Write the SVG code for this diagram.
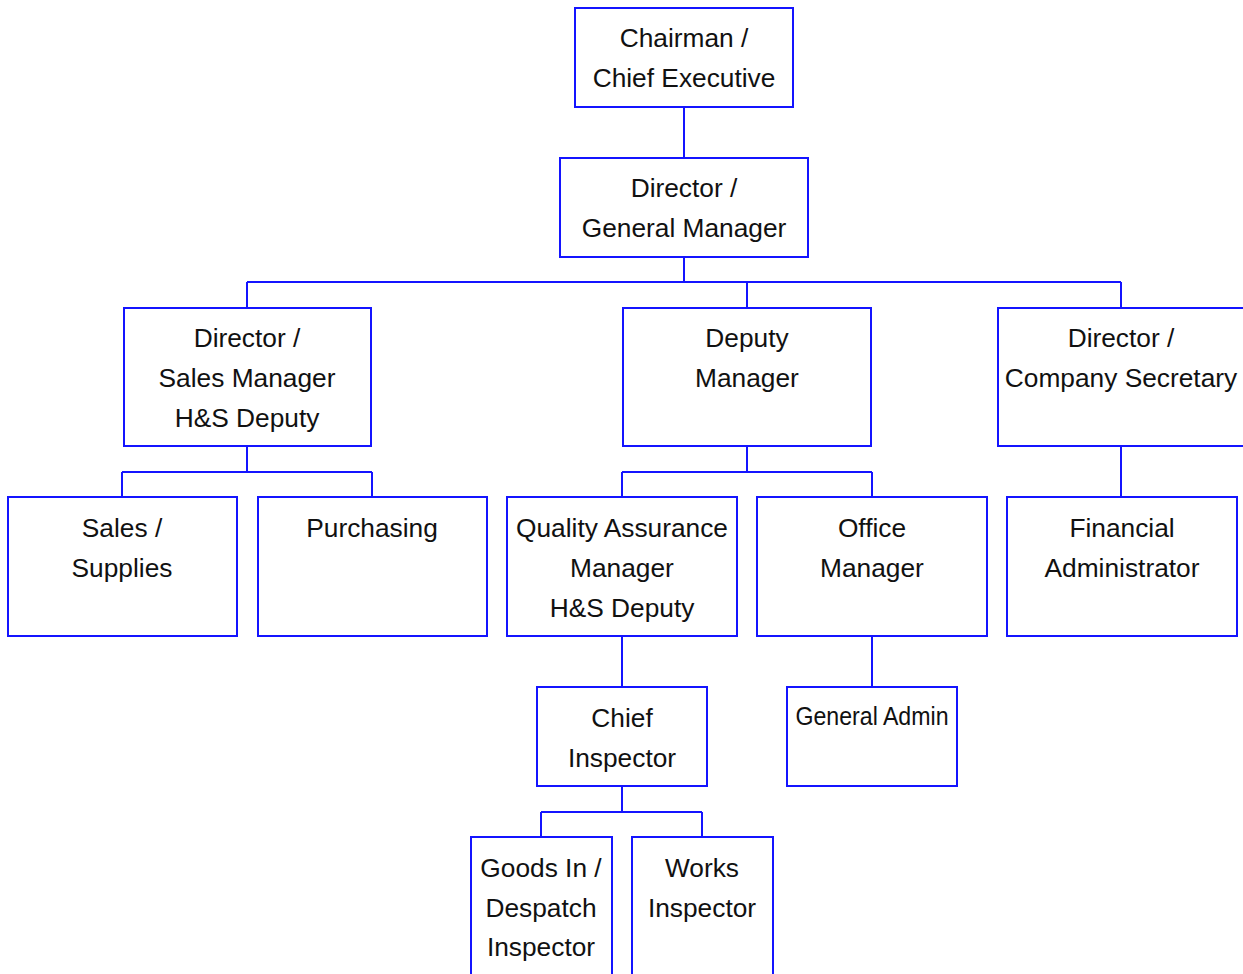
<svg xmlns="http://www.w3.org/2000/svg" width="1243" height="974" viewBox="0 0 1243 974">
<style>
.box{fill:#fff;stroke:#1414ff;stroke-width:2}
.ln{fill:none;stroke:#1414ff;stroke-width:2}
text{font-family:"Liberation Sans",Arial,sans-serif;font-size:26.3px;fill:#111;text-anchor:middle}
</style>
<rect width="1243" height="974" fill="#fff"/>
<g id="connectors">
<path class="ln" d="M684 107V158M684 257V282M247 282H1121M247 282V308M747 282V308M1121 282V308"/>
<path class="ln" d="M247 446V472M122 472H372M122 472V497M372 472V497"/>
<path class="ln" d="M747 446V472M622 472H872M622 472V497M872 472V497"/>
<path class="ln" d="M1121 446V497M622 636V687M872 636V687"/>
<path class="ln" d="M622 786V812M541 812H702M541 812V837M702 812V837"/>
</g>
<g id="chairman"><rect class="box" x="575" y="8" width="218" height="99"/><text x="684" y="47">Chairman /</text><text x="684" y="87">Chief Executive</text></g>
<g id="director-gm"><rect class="box" x="560" y="158" width="248" height="99"/><text x="684" y="197">Director /</text><text x="684" y="237">General Manager</text></g>
<g id="director-sales"><rect class="box" x="124" y="308" width="247" height="138"/><text x="247" y="347">Director /</text><text x="247" y="387">Sales Manager</text><text x="247" y="427">H&amp;S Deputy</text></g>
<g id="deputy-manager"><rect class="box" x="623" y="308" width="248" height="138"/><text x="747" y="347">Deputy</text><text x="747" y="387">Manager</text></g>
<g id="director-secretary"><rect class="box" x="998" y="308" width="260" height="138"/><text x="1121" y="347">Director /</text><text x="1121" y="387">Company Secretary</text></g>
<g id="sales-supplies"><rect class="box" x="8" y="497" width="229" height="139"/><text x="122" y="537">Sales /</text><text x="122" y="577">Supplies</text></g>
<g id="purchasing"><rect class="box" x="258" y="497" width="229" height="139"/><text x="372" y="537">Purchasing</text></g>
<g id="qa-manager"><rect class="box" x="507" y="497" width="230" height="139"/><text x="622" y="537">Quality Assurance</text><text x="622" y="577">Manager</text><text x="622" y="617">H&amp;S Deputy</text></g>
<g id="office-manager"><rect class="box" x="757" y="497" width="230" height="139"/><text x="872" y="537">Office</text><text x="872" y="577">Manager</text></g>
<g id="financial-admin"><rect class="box" x="1007" y="497" width="230" height="139"/><text x="1122" y="537">Financial</text><text x="1122" y="577">Administrator</text></g>
<g id="chief-inspector"><rect class="box" x="537" y="687" width="170" height="99"/><text x="622" y="727">Chief</text><text x="622" y="767">Inspector</text></g>
<g id="general-admin"><rect class="box" x="787" y="687" width="170" height="99"/><text x="872" y="725" textLength="153" lengthAdjust="spacingAndGlyphs">General Admin</text></g>
<g id="goods-in"><rect class="box" x="471" y="837" width="141" height="150"/><text x="541" y="877">Goods In /</text><text x="541" y="917">Despatch</text><text x="541" y="956">Inspector</text></g>
<g id="works-inspector"><rect class="box" x="632" y="837" width="141" height="150"/><text x="702" y="877">Works</text><text x="702" y="917">Inspector</text></g>
</svg>
